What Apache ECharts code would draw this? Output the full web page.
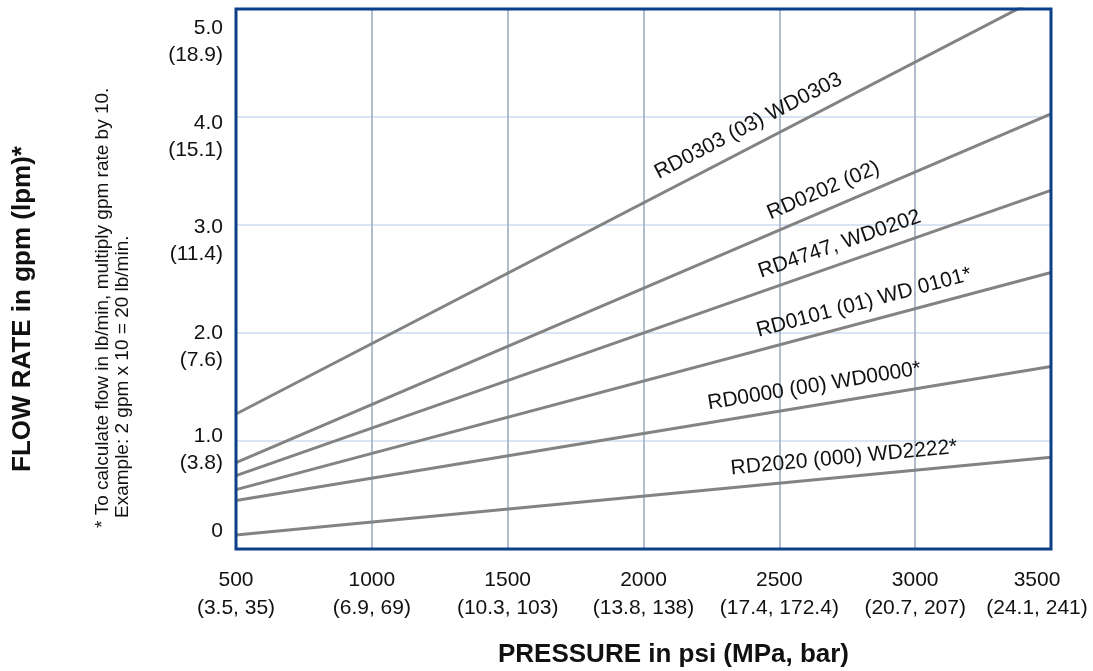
<!DOCTYPE html>
<html>
<head>
<meta charset="utf-8">
<script src="https://cdn.jsdelivr.net/npm/echarts@6/dist/echarts.min.js"></script>
<style>
html,body{margin:0;padding:0;background:#fff;}
#c{width:1093px;height:671px;}
</style>
</head>
<body>
<div id="c"></div>
<script>
// ---- data ----
var pressures = [500, 3500];
var seriesNames = ['RD0303 (03) WD0303', 'RD0202 (02)', 'RD4747, WD0202', 'RD0101 (01) WD 0101*', 'RD0000 (00) WD0000*', 'RD2020 (000) WD2222*'];
var rd0303 = [1.25, 5.16];
var rd0202 = [0.80, 4.03];
var rd4747 = [0.68, 3.32];
var rd0101 = [0.55, 2.56];
var rd0000 = [0.45, 1.69];
var rd2020 = [0.13, 0.85];
var xTickMain = ['500', '1000', '1500', '2000', '2500', '3000', '3500'];
var xTickSub = ['(3.5, 35)', '(6.9, 69)', '(10.3, 103)', '(13.8, 138)', '(17.4, 172.4)', '(20.7, 207)', '(24.1, 241)'];
var yTickMain = ['0', '1.0', '2.0', '3.0', '4.0', '5.0'];
var yTickSub = ['', '(3.8)', '(7.6)', '(11.4)', '(15.1)', '(18.9)'];

var allSeries = [rd0303, rd0202, rd4747, rd0101, rd0000, rd2020];
// label placement (psi along the line) – layout only
var labelAt = [2420, 2690, 2745, 2830, 2640, 2745];
var labelOffset = [20, 19, 19, 19, 19, 19];

var FONT = "'Liberation Sans', Arial, Helvetica, sans-serif";

var chart = echarts.init(document.getElementById('c'));

var yRich = {
  a: {fontSize: 21, lineHeight: 27, color: '#111', fontFamily: FONT, align: 'right'},
  b: {fontSize: 21, lineHeight: 27, color: '#111', fontFamily: FONT, align: 'right'},
  s0: {fontSize: 4, lineHeight: 36},
  s1: {fontSize: 4, lineHeight: 17},
  s2: {fontSize: 4, lineHeight: 27},
  s3: {fontSize: 4, lineHeight: 31},
  s4: {fontSize: 4, lineHeight: 39},
  s5: {fontSize: 4, lineHeight: 65}
};

var xRich = {
  m: {fontSize: 21, lineHeight: 28, color: '#111', fontFamily: FONT},
  r: {fontSize: 21, lineHeight: 28, color: '#111', fontFamily: FONT, padding: [0, 28, 0, 0]}
};

var series = allSeries.map(function (vals, i) {
  return {
    name: seriesNames[i],
    type: 'line',
    data: pressures.map(function (p, j) { return [p, vals[j]]; }),
    showSymbol: false,
    symbol: 'none',
    silent: true,
    clip: true,
    lineStyle: {color: '#838383', width: 3},
    z: 3
  };
});

chart.setOption({
  animation: false,
  backgroundColor: '#fff',
  grid: {
    left: 236, right: 42, top: 9, bottom: 122,
    outerBoundsMode: 'none',
    containLabel: false,
    show: true, borderColor: '#0b3f87', borderWidth: 3, backgroundColor: 'transparent', z: 5
  },
  xAxis: {
    type: 'value', min: 500, max: 3500, interval: 500,
    name: 'PRESSURE in psi (MPa, bar)',
    nameLocation: 'middle', nameGap: 93,
    nameTextStyle: {fontSize: 26, fontWeight: 'bold', color: '#111', fontFamily: FONT, padding: [0, 0, 0, 60]},
    axisLine: {show: false}, axisTick: {show: false},
    splitLine: {show: true, showMinLine: false, showMaxLine: false, lineStyle: {color: '#9aa7bb', width: 1.5}},
    axisLabel: {
      margin: 17, fontSize: 21, color: '#111', fontFamily: FONT,
      formatter: function (v) {
        var i = xTickMain.indexOf(String(v));
        if (i < 0) return '';
        var t = (i === xTickMain.length - 1) ? 'r' : 'm';
        return '{' + t + '|' + xTickMain[i] + '}\n{' + t + '|' + xTickSub[i] + '}';
      },
      rich: xRich
    }
  },
  yAxis: {
    type: 'value', min: 0, max: 5, interval: 1,
    name: 'FLOW RATE in gpm (lpm)*',
    nameLocation: 'middle', nameRotate: 90, nameGap: 200,
    nameTextStyle: {fontSize: 26, fontWeight: 'bold', color: '#111', fontFamily: FONT, padding: [0, 60, 0, 0]},
    axisLine: {show: false}, axisTick: {show: false},
    splitLine: {show: true, showMinLine: false, showMaxLine: false, lineStyle: {color: '#cddcef', width: 1.5}},
    axisLabel: {
      margin: 13, fontSize: 21, color: '#111', fontFamily: FONT,
      formatter: function (v) {
        var i = Math.round(v);
        if (i === 0) return '{a|' + yTickMain[0] + '}\n{s0| }';
        return '{s' + i + '| }\n{a|' + yTickMain[i] + '}\n{b|' + yTickSub[i] + '}';
      },
      rich: yRich
    }
  },
  series: series
});

// line labels placed along each line using the chart's own scales
var graphics = [];
allSeries.forEach(function (vals, i) {
  var p0 = chart.convertToPixel({gridIndex: 0}, [pressures[0], vals[0]]);
  var p1 = chart.convertToPixel({gridIndex: 0}, [pressures[1], vals[1]]);
  var a = Math.atan2(p0[1] - p1[1], p1[0] - p0[0]);
  var px = chart.convertToPixel({gridIndex: 0}, [labelAt[i], 0])[0];
  var t = (px - p0[0]) / (p1[0] - p0[0]);
  var py = p0[1] + t * (p1[1] - p0[1]);
  var off = labelOffset[i];
  graphics.push({
    type: 'text',
    x: px - Math.sin(a) * off,
    y: py - Math.cos(a) * off,
    rotation: a,
    z: 10,
    style: {text: seriesNames[i], fill: '#111', font: '21px ' + FONT, align: 'center', verticalAlign: 'middle'}
  });
});
// footnote
graphics.push({
  type: 'text', x: 103, y: 528, rotation: Math.PI / 2, z: 10,
  style: {text: '* To calculate flow in lb/min, multiply gpm rate by 10.', fill: '#111', font: '19px ' + FONT, align: 'left', verticalAlign: 'middle'}
});
graphics.push({
  type: 'text', x: 123, y: 518, rotation: Math.PI / 2, z: 10,
  style: {text: 'Example: 2 gpm x 10 = 20 lb/min.', fill: '#111', font: '19px ' + FONT, align: 'left', verticalAlign: 'middle'}
});
chart.setOption({graphic: graphics});
</script>
</body>
</html>
